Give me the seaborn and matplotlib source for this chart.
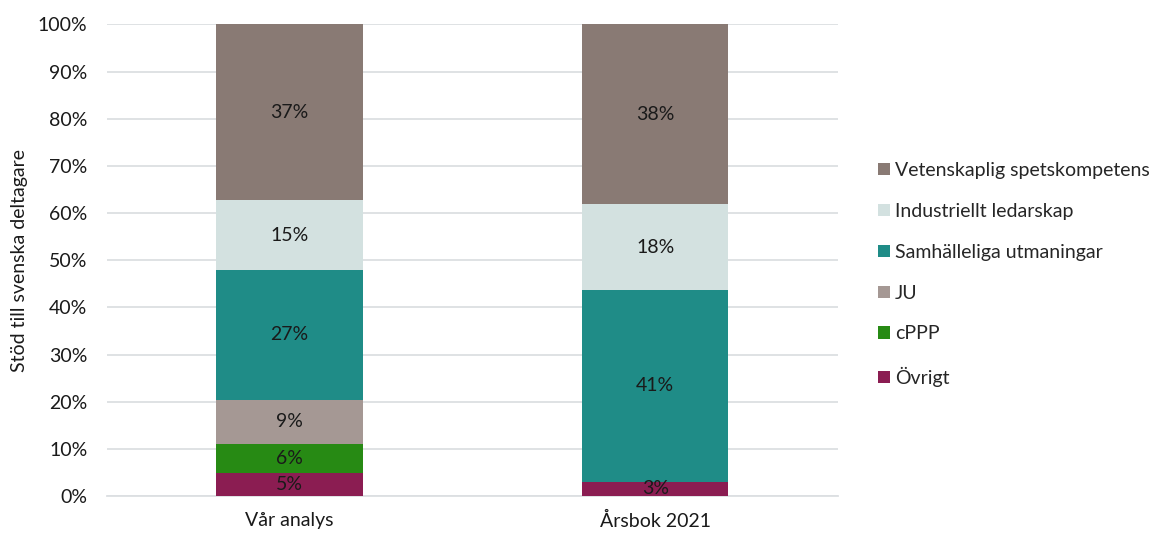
import numpy as np
import pandas as pd
import matplotlib
matplotlib.use("Agg")
import matplotlib.pyplot as plt
import seaborn as sns
from matplotlib.patches import Patch
from matplotlib.ticker import PercentFormatter

# Share of Swedish participants' support, by programme part (percent)
sources = ["Vår analys", "Årsbok 2021"]
categories = ["Övrigt", "cPPP", "JU", "Samhälleliga utmaningar",
              "Industriellt ledarskap", "Vetenskaplig spetskompetens"]
ovrigt = [5.0, 3.1]
cppp = [6.1, 0.0]
ju = [9.4, 0.0]
samhalle = [27.4, 40.6]
industri = [14.9, 18.2]
vetenskap = [37.2, 38.1]

colors = ["#8B1D52", "#278A14", "#A59894", "#1F8C87", "#D3E1E0", "#897A74"]

series = [ovrigt, cppp, ju, samhalle, industri, vetenskap]
df = pd.DataFrame({c: v for c, v in zip(categories, series)}, index=sources)
cum = df.cumsum(axis=1)

sns.set_theme(style="white")
plt.rcParams["font.family"] = ["Lato", "DejaVu Sans"]
fs = 14

fig = plt.figure(figsize=(11.57, 5.33), dpi=100)
ax = fig.add_axes([0.0922, 0.0689, 0.7243 - 0.0922, 0.9544 - 0.0689])

# Stacked bars: draw cumulative totals from the top segment down
for cat, col in reversed(list(zip(categories, colors))):
    sns.barplot(x=sources, y=cum[cat].values, color=col, width=0.4,
                linewidth=0, saturation=1, ax=ax, zorder=3)

# Segment labels
for i, src in enumerate(sources):
    base = 0.0
    for cat in categories:
        v = df.loc[src, cat]
        if v > 0:
            ax.text(i, base + v / 2, f"{v:.0f}%", ha="center", va="center",
                    fontsize=fs, color="#1a1a1a", zorder=5)
        base += v

ax.set_ylim(0, 100)
ax.set_xlim(-0.5, 1.5)
ax.set_yticks(np.arange(0, 101, 10))
ax.yaxis.set_major_formatter(PercentFormatter(decimals=0))
ax.grid(axis="y", color="#DCDFE2", linewidth=1.3, zorder=0)
ax.grid(axis="x", visible=False)
for s in ["top", "right", "left"]:
    ax.spines[s].set_visible(False)
ax.spines["bottom"].set_color("#DCDFE2")
ax.spines["bottom"].set_linewidth(1.3)
ax.tick_params(axis="both", length=0, labelsize=fs, colors="#1a1a1a")
ax.tick_params(axis="y", pad=14)
ax.tick_params(axis="x", pad=11)
ax.set_xlabel("")
ax.set_ylabel("Stöd till svenska deltagare", fontsize=fs, color="#1a1a1a", labelpad=7)

handles = [Patch(facecolor=c, edgecolor="none", label=l)
           for l, c in reversed(list(zip(categories, colors)))]
fig.legend(handles=handles, loc="upper left", bbox_to_anchor=(0.752, 0.711),
           frameon=False, fontsize=fs, handlelength=0.6, handleheight=0.6,
           handletextpad=0.28, labelspacing=1.23, borderaxespad=0)

fig.savefig("out.png", dpi=100)
